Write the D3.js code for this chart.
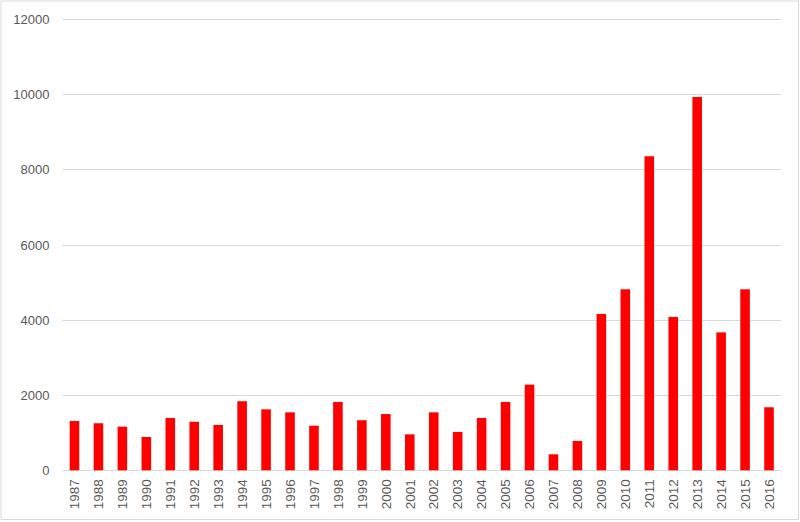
<!DOCTYPE html>
<html>
<head>
<meta charset="utf-8">
<script src="https://cdn.jsdelivr.net/npm/d3@7"></script>
<style>
html,body{margin:0;padding:0;background:#fff;}
svg{display:block;}
text{font-family:"Liberation Sans","DejaVu Sans",sans-serif;}
</style>
</head>
<body>
<svg id="chart" width="800" height="522"></svg>
<script>
const years = ["1987","1988","1989","1990","1991","1992","1993","1994","1995","1996","1997","1998","1999","2000","2001","2002","2003","2004","2005","2006","2007","2008","2009","2010","2011","2012","2013","2014","2015","2016"];
const values = [1310,1250,1160,885,1390,1290,1205,1835,1620,1540,1185,1815,1330,1495,955,1540,1020,1390,1815,2275,425,780,4155,4810,8345,4075,9920,3665,4810,1675];
const yTicks = [0,2000,4000,6000,8000,10000,12000];

const svg = d3.select("#chart");
const W = 800, H = 522;
const margin = {left: 62.5, right: 19, top: 18.7, bottom: 51.7};

svg.append("rect").attr("x",1).attr("y",1).attr("width",W-2.5).attr("height",H-3.5)
  .attr("fill","#fff").attr("stroke","#d9d9d9").attr("stroke-width",1);

const x = d3.scaleBand().domain(years).range([margin.left, W - margin.right]).paddingInner(0.6).paddingOuter(0.3);
const y = d3.scaleLinear().domain([0,12000]).range([H - margin.bottom, margin.top]);

// gridlines
svg.append("g").selectAll("line").data(yTicks).join("line")
  .attr("x1", margin.left).attr("x2", W - margin.right)
  .attr("y1", d => Math.round(y(d)) + 0.5).attr("y2", d => Math.round(y(d)) + 0.5)
  .attr("stroke","#d9d9d9").attr("stroke-width",1);

// y axis labels
const yAxis = d3.axisLeft(y).tickValues(yTicks).tickSize(0).tickPadding(0).tickFormat(d3.format("d"));
const gy = svg.append("g").attr("transform",`translate(${margin.left - 13},0)`).call(yAxis);
gy.select(".domain").remove();
gy.selectAll("text").attr("fill","#595959").style("font-size","13px").style("font-family","Liberation Sans, sans-serif").attr("dy","0.35em");

// bars
svg.append("g").selectAll("rect").data(years).join("rect")
  .attr("x", (d) => x(d))
  .attr("width", x.bandwidth())
  .attr("y", (d,i) => y(values[i]))
  .attr("height", (d,i) => y(0) - y(values[i]))
  .attr("fill","#ff0000");

// x axis labels
const xAxis = d3.axisBottom(x).tickSize(0).tickPadding(0);
const gx = svg.append("g").attr("transform",`translate(0,${y(0)})`).call(xAxis);
gx.select(".domain").remove();
gx.selectAll("text")
  .attr("fill","#595959").style("font-size","13.5px").style("font-family","Liberation Sans, sans-serif")
  .attr("transform","rotate(-90)")
  .attr("text-anchor","end")
  .attr("x",-9).attr("y",0).attr("dy","0.35em");
</script>
</body>
</html>
